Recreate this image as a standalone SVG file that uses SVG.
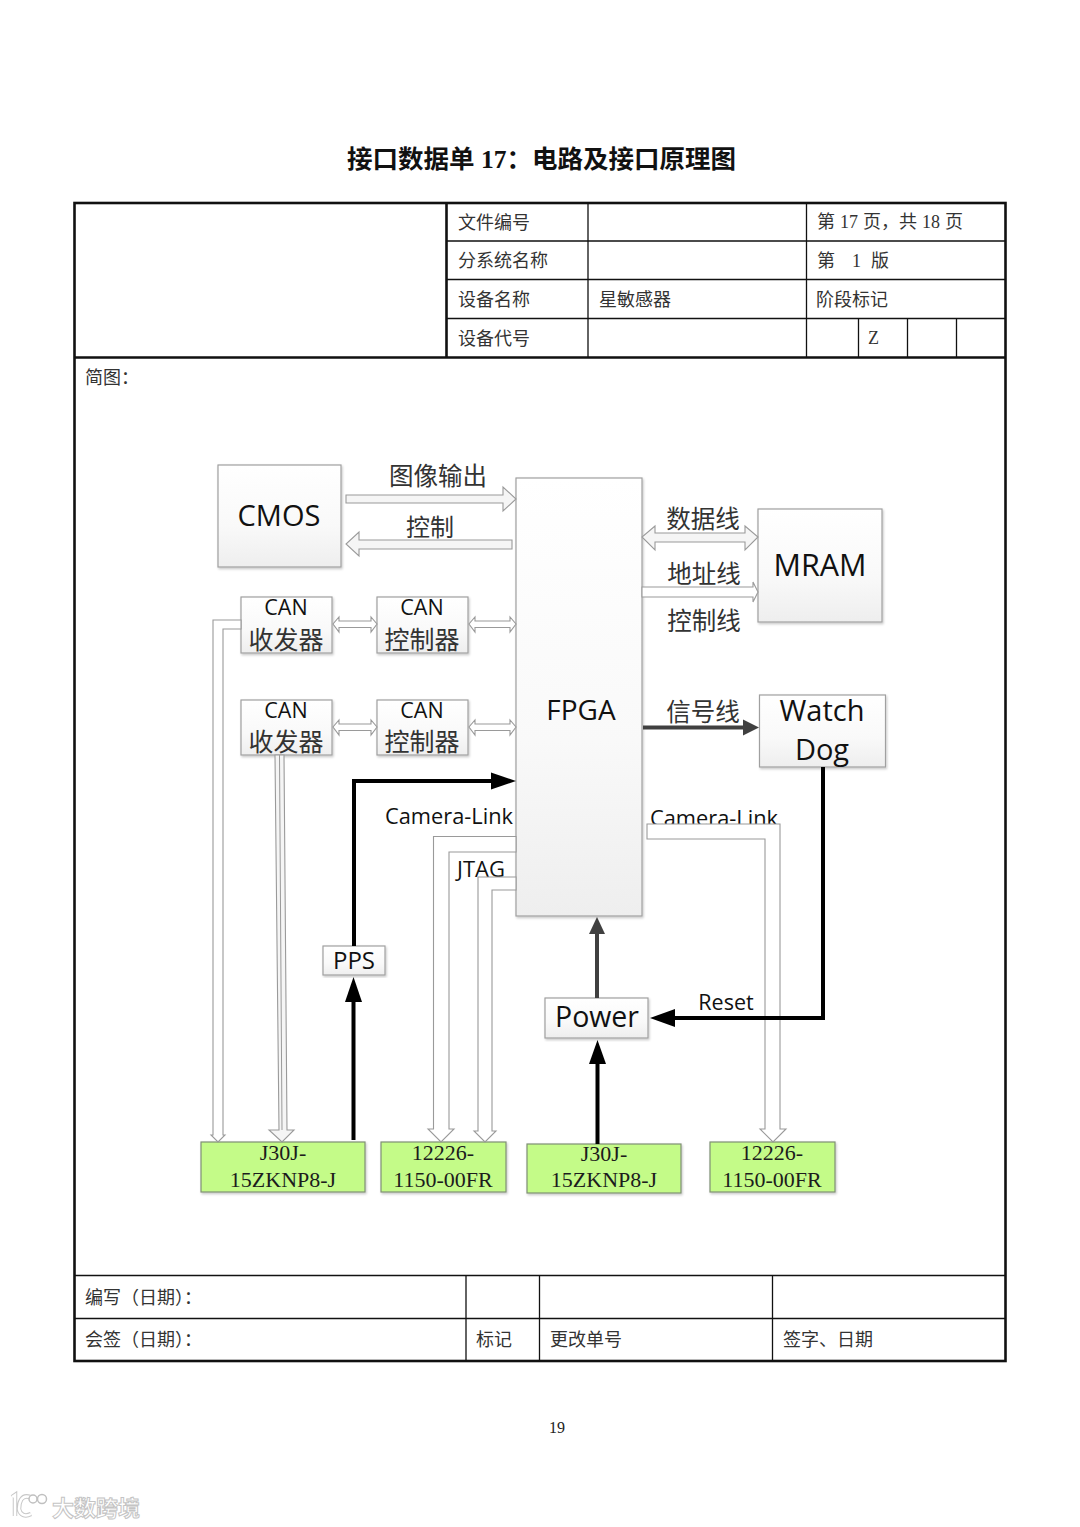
<svg xmlns="http://www.w3.org/2000/svg" width="1080" height="1527" viewBox="0 0 1080 1527">
<style>
.cn{font-family:"Liberation Serif","Noto Sans CJK SC",serif;font-size:18px;fill:#333}
.dc{font-family:"Noto Sans CJK SC",sans-serif;fill:#333;text-anchor:middle}
.en{font-family:"Open Sans","Noto Sans",sans-serif;fill:#111;text-anchor:middle}
.tm{font-family:"Liberation Serif",serif;font-size:22px;fill:#1c1c1c;text-anchor:middle}
.box{fill:url(#g);stroke:#a0a0a0;stroke-width:1.2;filter:url(#s)}
.gbox{fill:#c4fb88;stroke:#7f8f74;stroke-width:1.2;filter:url(#s)}
.tl{stroke:#111;stroke-width:1.3;fill:none}
.tb{stroke:#111;stroke-width:2.6;fill:none}
.h{fill:#fff;stroke:#9a9a9a;stroke-width:1.1}
.hf{fill:#f5f5f5;stroke:#9a9a9a;stroke-width:1.1}
.k{stroke:#000;stroke-width:4;fill:none}
.d{stroke:#404040;stroke-width:4;fill:none}
</style>
<defs>
<linearGradient id="g" x1="0" y1="0" x2="0" y2="1"><stop offset="0" stop-color="#ffffff"/><stop offset="0.6" stop-color="#f9f9f9"/><stop offset="1" stop-color="#eeeeee"/></linearGradient>
<filter id="s" x="-10%" y="-10%" width="120%" height="120%"><feDropShadow dx="1" dy="1.5" stdDeviation="1" flood-color="#000" flood-opacity="0.22"/></filter>
</defs>
<rect width="1080" height="1527" fill="#fff"/>
<text x="347" y="168" font-size="25.500" font-weight="700" fill="#111" style="font-family:'Liberation Serif','Noto Sans CJK SC',serif">接口数据单 17：电路及接口原理图</text>

<g id="table">
<rect class="tb" x="74.500" y="203" width="931" height="1158"/>
<path class="tb" d="M75 357.500H1005M446.500 203V357"/>
<path class="tl" d="M447 241H1005M447 279.500H1005M447 318.500H1005M588 203V357M806.500 203V357M858.500 318V357M907.500 318V357M956.500 318V357M75 1275.500H1005M75 1318.500H1005M466 1275V1361M539.500 1275V1361M772.500 1275V1361"/>
<text class="cn" x="458" y="229">文件编号</text>
<text class="cn" x="458" y="267">分系统名称</text>
<text class="cn" x="458" y="306">设备名称</text>
<text class="cn" x="458" y="345">设备代号</text>
<text class="cn" x="599" y="306">星敏感器</text>
<text class="cn" x="817" y="228" word-spacing="0.500">第 17 页，共 18 页</text>
<text class="cn" x="817" y="267">第</text><text class="cn" x="852" y="267">1</text><text class="cn" x="871" y="267">版</text>
<text class="cn" x="816" y="306">阶段标记</text>
<text class="cn" x="868" y="344">Z</text>
<text class="cn" x="85" y="384">简图：</text>
<text class="cn" x="85" y="1304">编写（日期）：</text>
<text class="cn" x="85" y="1346">会签（日期）：</text>
<text class="cn" x="476" y="1346">标记</text>
<text class="cn" x="550" y="1346">更改单号</text>
<text class="cn" x="783" y="1346">签字、日期</text>
</g>

<g id="nodes">
<g id="cmos"><rect class="box" x="218" y="465" width="123" height="102"/><text class="en" x="279" y="526" font-size="29">CMOS</text></g>
<g id="fpga"><rect class="box" x="516" y="478" width="126" height="438"/><text class="en" x="581" y="720" font-size="28">FPGA</text></g>
<g id="mram"><rect class="box" x="758" y="509" width="124" height="113"/><text class="en" x="820" y="576" font-size="30.500">MRAM</text></g>
<g id="watchdog"><rect class="box" x="759.500" y="695" width="126" height="72"/><text class="en" x="822" y="721" font-size="29">Watch</text><text class="en" x="822" y="760" font-size="29">Dog</text></g>
<g id="can-t1"><rect class="box" x="241" y="597" width="91" height="56"/><text class="en" x="286" y="615" font-size="21.500">CAN</text><text class="dc" x="286" y="649" font-size="25">收发器</text></g>
<g id="can-c1"><rect class="box" x="377" y="597" width="91" height="56"/><text class="en" x="422" y="615" font-size="21.500">CAN</text><text class="dc" x="422" y="649" font-size="25">控制器</text></g>
<g id="can-t2"><rect class="box" x="241" y="700" width="91" height="55"/><text class="en" x="286" y="718" font-size="21.500">CAN</text><text class="dc" x="286" y="751" font-size="25">收发器</text></g>
<g id="can-c2"><rect class="box" x="377" y="700" width="91" height="55"/><text class="en" x="422" y="718" font-size="21.500">CAN</text><text class="dc" x="422" y="751" font-size="25">控制器</text></g>
<g id="pps"><rect class="box" x="323" y="946" width="62" height="29"/><text class="en" x="354" y="969" font-size="24">PPS</text></g>
<g id="power"><rect class="box" x="545" y="998" width="103" height="40"/><text class="en" x="597" y="1027" font-size="28.500">Power</text></g>
<g id="j30-1"><rect class="gbox" x="201" y="1142" width="164" height="50"/><text class="tm" x="283" y="1160">J30J-</text><text class="tm" x="283" y="1187">15ZKNP8-J</text></g>
<g id="c12226-1"><rect class="gbox" x="381" y="1142" width="125" height="50"/><text class="tm" x="443" y="1160">12226-</text><text class="tm" x="443" y="1187">1150-00FR</text></g>
<g id="j30-2"><rect class="gbox" x="527" y="1144" width="154" height="49"/><text class="tm" x="604" y="1161">J30J-</text><text class="tm" x="604" y="1187">15ZKNP8-J</text></g>
<g id="c12226-2"><rect class="gbox" x="710" y="1142" width="125" height="50"/><text class="tm" x="772" y="1160">12226-</text><text class="tm" x="772" y="1187">1150-00FR</text></g>
</g>

<g id="labels">
<text class="dc" x="438" y="485" font-size="24.500">图像输出</text>
<text class="dc" x="430" y="536" font-size="24">控制</text>
<text class="dc" x="703" y="528" font-size="24.500">数据线</text>
<text class="dc" x="704" y="583" font-size="24.500">地址线</text>
<text class="dc" x="704" y="630" font-size="24.500">控制线</text>
<text class="dc" x="703" y="721" font-size="24.500">信号线</text>
<text class="en" x="449" y="824" font-size="21.800">Camera-Link</text>
<text class="en" x="714" y="826" font-size="21.800">Camera-Link</text>
<text class="en" x="481" y="877" font-size="22">JTAG</text>
<text class="en" x="726" y="1010" font-size="21.500">Reset</text>
<text x="557" y="1433" font-size="16" fill="#222" text-anchor="middle" style="font-family:'Liberation Serif',serif">19</text>
</g>

<g id="connectors">
<polygon class="hf" points="346,495 503,495 503,487 516,499 503,511 503,503 346,503"/>
<polygon class="hf" points="512,540 359,540 359,532 346,544 359,556 359,549 512,549"/>
<polygon class="hf" points="655,533 745,533 745,526 758,537 745,550 745,542 655,542 655,550 642,537 655,526"/>
<polygon class="h" points="642,587 753,587 753,582 758,592 753,602 753,597 642,597"/>
<polygon class="h" points="339,621 371,621 371,617 377,624 371,632 371,627.500 339,627.500 339,632 333,624 339,617"/>
<polygon class="h" points="475,621 510,621 510,617 516,624 510,632 510,627.500 475,627.500 475,632 469,624 475,617"/>
<polygon class="h" points="339,724 371,724 371,720 377,727 371,735 371,730.500 339,730.500 339,735 333,727 339,720"/>
<polygon class="h" points="475,724 510,724 510,720 516,727 510,735 510,730.500 475,730.500 475,735 469,727 475,720"/>
<polygon class="h" points="241,620 213,620 213,1135 211,1135 218,1142 225,1135 223,1135 223,629 241,629"/>
<polygon class="hf" points="275,755 284,755 287,1130 294,1130 282,1142 269,1130 279,1130"/>
<path d="M279.500 755L282 1130" stroke="#9a9a9a" stroke-width="1" fill="none"/>
<polygon class="h" points="516,836.500 433.500,836.500 433.500,1129 428,1129 441,1142 454,1129 449,1129 449,852 516,852"/>
<polygon class="h" points="516,877 478,877 478,1131 474,1131 485,1142 496,1131 492,1131 492,890 516,890"/>
<polygon class="h" points="647,824 780,824 780,1129 786,1129 773,1142 760,1129 765,1129 765,839 647,839"/>
<path class="k" d="M353.500 1140V1000"/><polygon points="353.500,977 345,1002 362,1002" fill="#000"/>
<path class="k" d="M354 946V781H492"/><polygon points="516,781 491,772.500 491,789.500" fill="#000"/>
<path class="k" d="M823 767V1018H672"/><polygon points="650,1018 675,1009 675,1027" fill="#000"/>
<path class="k" d="M597.500 1144V1062"/><polygon points="597.500,1040 589,1064 606,1064" fill="#000"/>
<path class="d" d="M597 998V932"/><polygon points="597,917 589,934 605,934" fill="#404040"/>
<path class="d" d="M643 727.500H745"/><polygon points="759,727.500 743,719.500 743,735.500" fill="#404040"/>
</g>

<g id="watermark">
<path d="M12 1497L15 1495V1516M30 1497C21 1494 19 1503 19 1509C20 1515 25 1517 31 1514" fill="none" stroke="#c8c8c8" stroke-width="4.500"/>
<path d="M12 1497L15 1495V1516M30 1497C21 1494 19 1503 19 1509C20 1515 25 1517 31 1514" fill="none" stroke="#fff" stroke-width="2.500"/>
<circle cx="33" cy="1499" r="4" fill="#fff" stroke="#c0c0c0" stroke-width="1.500"/><circle cx="42" cy="1499" r="4.500" fill="#fff" stroke="#c0c0c0" stroke-width="1.500"/>
<text x="52" y="1516" font-size="22" fill="#fff" stroke="#c4c4c4" stroke-width="1" style="font-family:'Noto Sans CJK SC',sans-serif;font-weight:700">大数跨境</text>
</g>
</svg>
